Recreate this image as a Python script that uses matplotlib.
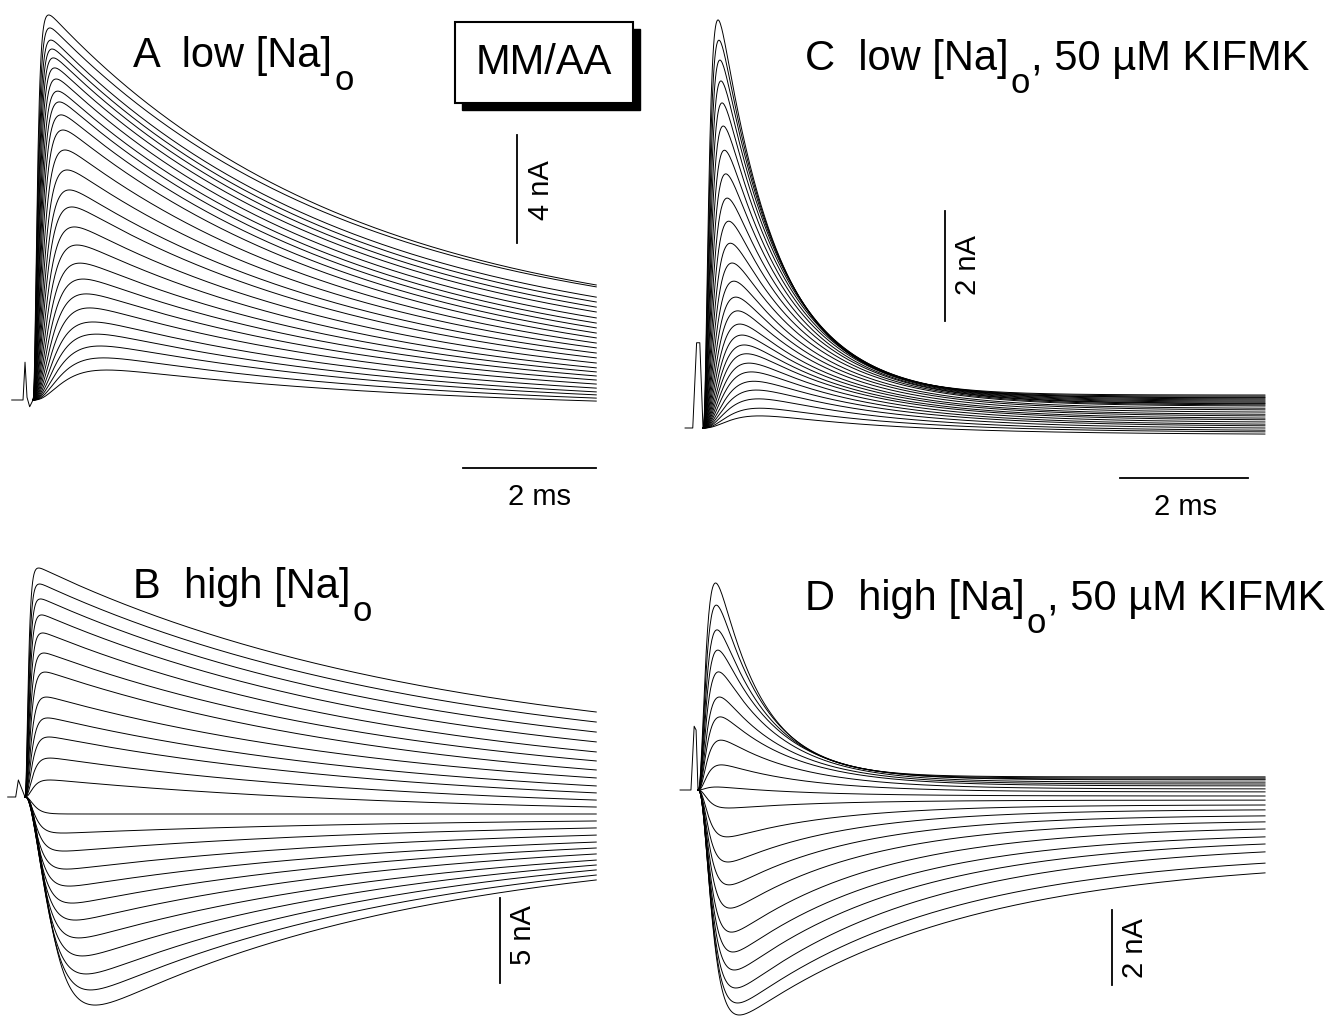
import numpy as np
import matplotlib.pyplot as plt
from matplotlib.patches import Rectangle

plt.rcParams['font.family'] = ['Liberation Sans', 'DejaVu Sans']

W, H = 1325, 1017

# peak and end current of each trace (nA)
a_peak = [14.26, 13.78, 13.33, 13.0, 12.67, 12.30, 11.89, 11.44, 11.04, 10.56, 10.0, 9.26, 8.52,
          7.78, 7.15, 6.41, 5.74, 5.07, 4.48, 3.93, 3.41, 2.89, 2.44, 2.0, 1.56, 1.11]
a_end = [4.26, 4.19, 3.81, 3.63, 3.44, 3.26, 3.04, 2.85, 2.67, 2.48, 2.30, 2.11, 1.93,
         1.74, 1.56, 1.37, 1.19, 1.04, 0.89, 0.74, 0.59, 0.44, 0.30, 0.19, 0.07, -0.04]

b_peak = [13.47, 12.53, 11.65, 10.71, 9.65, 8.47, 7.35, 5.88, 4.65, 3.53, 2.29, 1.0,
          -0.35, -2.12, -3.18, -4.24, -5.24, -6.24, -7.24, -8.29, -9.35, -10.41, -11.35, -12.24]
b_end = [5.0, 4.41, 3.82, 3.24, 2.65, 2.12, 1.59, 1.12, 0.65, 0.24, -0.18, -0.59,
         -1.0, -1.41, -1.82, -2.24, -2.65, -3.0, -3.35, -3.71, -4.0, -4.29, -4.59, -4.88]

c_peak = [7.42, 7.05, 6.69, 6.31, 5.91, 5.49, 5.05, 4.62, 4.18, 3.76, 3.36, 3.0, 2.67,
          2.38, 2.13, 1.89, 1.69, 1.51, 1.35, 1.18, 1.02, 0.85, 0.69, 0.53, 0.36, 0.22]
c_end = [0.60, 0.58, 0.56, 0.55, 0.53, 0.51, 0.49, 0.47, 0.45, 0.44, 0.42, 0.40, 0.36,
         0.33, 0.29, 0.25, 0.22, 0.18, 0.15, 0.11, 0.07, 0.04, 0.0, -0.04, -0.07, -0.11]

d_peak = [5.52, 4.93, 4.27, 3.73, 3.15, 2.48, 1.95, 1.33, 0.67, 0.08, -0.48,
          -1.25, -1.92, -2.53, -3.15, -3.79, -4.32, -4.8, -5.28, -5.68, -6.0]
d_end = [0.35, 0.32, 0.29, 0.27, 0.21, 0.16, 0.11, 0.03, -0.05, -0.16, -0.27,
         -0.4, -0.53, -0.69, -0.85, -1.04, -1.25, -1.44, -1.65, -1.95, -2.21]

# time to peak and decay time constant (ms) of first and last trace
a_tpk, a_tau = (0.23, 1.2), (4.5, 5.0)
b_tpk, b_tau = (0.2, 1.0), (6.0, 5.0)
c_tpk, c_tau = (0.23, 1.0), (0.9, 2.2)
d_tpk, d_tau = (0.27, 0.6), (0.7, 3.5)

# pulse duration (ms)
a_T, b_T, c_T, d_T = 8.47, 8.59, 8.78, 8.86

# capacitive blip before each step (ms, nA)
a_art_t = [-0.32, -0.15, -0.12, -0.09, -0.05, 0.0]
a_art_i = [0.0, 0.0, 1.4, 0.1, -0.25, 0.0]
b_art_t = [-0.26, -0.14, -0.1, -0.06, 0.0]
b_art_i = [0.0, 0.0, 1.0, 0.6, 0.0]
c_art_t = [-0.28, -0.16, -0.1, -0.05, 0.0]
c_art_i = [0.0, 0.0, 1.55, 1.55, 0.0]
d_art_t = [-0.28, -0.11, -0.06, -0.03, 0.0]
d_art_i = [0.0, 0.0, 1.7, 1.6, 0.0]


def make_traces(peaks, ends, tpk, tau, T, n=900):
    t = np.linspace(0, T, n)
    k = len(peaks)
    tps = np.geomspace(tpk[0], tpk[1], k)
    taus = np.geomspace(tau[0], tau[1], k)
    out = []
    for pk, en, tp, td in zip(peaks, ends, tps, taus):
        tr = tp / 3
        for _ in range(60):
            tr = tp / np.log(1 + 3 * td / tr)
        R = (1 - np.exp(-t / tr)) ** 3
        E = np.exp(-t / td) - np.exp(-T / td)
        s = 1.0 if pk >= en else -1.0
        lo, hi = 0.0, 10 * abs(pk - en) + 10
        for _ in range(60):
            b = 0.5 * (lo + hi)
            y = R * (en + s * b * E)
            ext = y.max() if s > 0 else y.min()
            if s * ext > s * pk:
                hi = b
            else:
                lo = b
        out.append(R * (en + s * lo * E))
    return t, out


fig = plt.figure(figsize=(W / 100, H / 100), dpi=100)
renderer = fig.canvas.get_renderer()


def panel(x0, y0, pxms, pxna):
    ax = fig.add_axes([0, 0, 1, 1])
    ax.patch.set_alpha(0)
    ax.set_xlim(-x0 / pxms, (W - x0) / pxms)
    ax.set_ylim((y0 - H) / pxna, y0 / pxna)
    ax.axis('off')
    return ax


def px(ax, x, y):
    # pixel position -> data position of this panel
    inv = ax.transData.inverted()
    return inv.transform((x, H - y))


def draw(ax, peaks, ends, tpk, tau, T, art_t, art_i):
    t, tr = make_traces(peaks, ends, tpk, tau, T)
    for y in tr:
        ax.plot(t, y, color='black', lw=0.7)
    ax.plot(art_t, art_i, color='black', lw=0.7)


def vbar(ax, x, ybot, length):
    xd, yd = px(ax, x, ybot)
    ax.plot([xd, xd], [yd, yd + length], color='black', lw=1.3)


def hbar(ax, xright, y, length):
    xd, yd = px(ax, xright, y)
    ax.plot([xd - length, xd], [yd, yd], color='black', lw=1.3)


def ftext(x, y, s, **kw):
    return fig.text(x / W, 1 - y / H, s, **kw)


fs = 30
sfs = 21


def label(x, y, head, tail=''):
    t1 = ftext(x, y, head, fontsize=fs, va='baseline')
    x1 = t1.get_window_extent(renderer).x1 + 2
    t2 = ftext(x1, y + 23, 'o', fontsize=fs * 0.83, va='baseline')
    if tail:
        x2 = t2.get_window_extent(renderer).x1 + 1
        ftext(x2, y, tail, fontsize=fs, va='baseline')


axA = panel(33, 400, 66.5, 27)
axB = panel(25, 797, 66.5, 17)
axC = panel(703, 428, 64, 55)
axD = panel(698, 790, 64, 37.5)

draw(axA, a_peak, a_end, a_tpk, a_tau, a_T, a_art_t, a_art_i)
draw(axB, b_peak, b_end, b_tpk, b_tau, b_T, b_art_t, b_art_i)
draw(axC, c_peak, c_end, c_tpk, c_tau, c_T, c_art_t, c_art_i)
draw(axD, d_peak, d_end, d_tpk, d_tau, d_T, d_art_t, d_art_i)

vbar(axA, 517, 243, 4)
hbar(axA, 596, 468, 2)
vbar(axB, 500, 983, 5)
vbar(axC, 945, 321, 2)
hbar(axC, 1248, 478, 2)
vbar(axD, 1112, 985, 2)

label(133, 67, 'A  low [Na]')
label(133, 598, 'B  high [Na]')
label(805, 70, 'C  low [Na]', ', 50 µM KIFMK')
label(805, 610, 'D  high [Na]', ', 50 µM KIFMK')

ftext(541, 190, '4 nA', fontsize=sfs, rotation=90, ha='center', va='center')
ftext(540, 497, '2 ms', fontsize=sfs, ha='center', va='center')
ftext(968, 265, '2 nA', fontsize=sfs, rotation=90, ha='center', va='center')
ftext(1185, 507, '2 ms', fontsize=sfs, ha='center', va='center')
ftext(523, 935, '5 nA', fontsize=sfs, rotation=90, ha='center', va='center')
ftext(1135, 948, '2 nA', fontsize=sfs, rotation=90, ha='center', va='center')

# MM/AA box with drop shadow
shadow = Rectangle((462 / W, 1 - 110 / H), 178 / W, 81 / H, transform=fig.transFigure,
                   facecolor='black', edgecolor='black')
box = Rectangle((455 / W, 1 - 103 / H), 178 / W, 81 / H, transform=fig.transFigure,
                facecolor='white', edgecolor='black', lw=1.5)
fig.patches.extend([shadow, box])
ftext(544, 63, 'MM/AA', fontsize=fs, ha='center', va='center')

fig.savefig('out.png', dpi=100)
